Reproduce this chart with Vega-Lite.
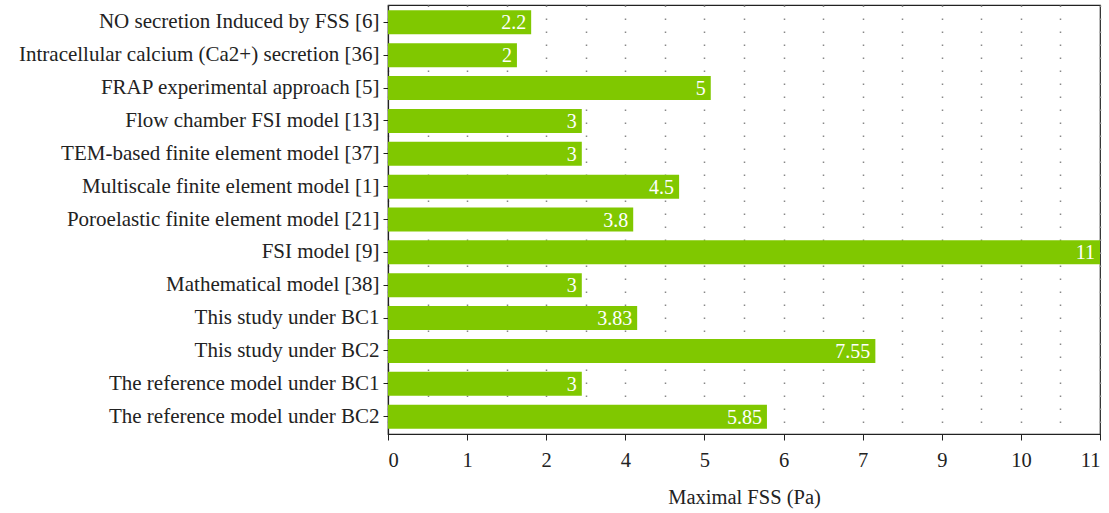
{
  "$schema": "https://vega.github.io/schema/vega-lite/v6.json",
  "width": 712,
  "height": 429,
  "padding": {"left": 18, "top": 5, "right": 2, "bottom": 5},
  "background": "white",
  "config": {
    "font": "Liberation Serif",
    "view": {"stroke": "#222", "strokeWidth": 1.2},
    "axis": {"labelFont": "Liberation Serif", "titleFont": "Liberation Serif", "labelColor": "#222", "titleColor": "#222", "domainColor": "#222", "tickColor": "#222"}
  },
  "data": {
    "values": [
      {"study": "NO secretion Induced by FSS [6]", "fss": 1.81, "label": "2.2"},
      {"study": "Intracellular calcium (Ca2+) secretion [36]", "fss": 1.63, "label": "2"},
      {"study": "FRAP experimental approach [5]", "fss": 5.08, "label": "5"},
      {"study": "Flow chamber FSI model [13]", "fss": 2.9, "label": "3"},
      {"study": "TEM-based finite element model [37]", "fss": 2.9, "label": "3"},
      {"study": "Multiscale finite element model [1]", "fss": 4.68, "label": "4.5"},
      {"study": "Poroelastic finite element model [21]", "fss": 4.1, "label": "3.8"},
      {"study": "FSI model [9]", "fss": 11, "label": "11"},
      {"study": "Mathematical model [38]", "fss": 2.9, "label": "3"},
      {"study": "This study under BC1", "fss": 4.15, "label": "3.83"},
      {"study": "This study under BC2", "fss": 7.32, "label": "7.55"},
      {"study": "The reference model under BC1", "fss": 2.9, "label": "3"},
      {"study": "The reference model under BC2", "fss": 5.79, "label": "5.85"}
    ]
  },
  "encoding": {
    "y": {
      "field": "study",
      "type": "nominal",
      "sort": null,
      "scale": {"paddingInner": 0.27, "paddingOuter": 0.16},
      "axis": {"title": null, "labelFontSize": 21, "labelLimit": 0, "labelPadding": 4, "tickSize": 5, "domainWidth": 1.2}
    }
  },
  "layer": [
    {
      "mark": {"type": "bar", "color": "#80c800"},
      "encoding": {
        "x": {
          "field": "fss",
          "type": "quantitative",
          "scale": {"domain": [0, 2, 4, 7, 9, 11], "range": [0, 158.2, 237.3, 474.7, 553.8, 712], "nice": false, "zero": false},
          "axis": {
            "orient": "bottom",
            "title": "Maximal FSS (Pa)",
            "titleFontSize": 20.5,
            "titleFontWeight": "normal",
            "titlePadding": 17,
            "labelFontSize": 20.5,
            "labelPadding": 10,
            "values": [0, 1, 2, 4, 5, 6, 7, 9, 10, 11],
            "tickSize": 6,
            "domainWidth": 1.2,
            "grid": false
          }
        }
      }
    },
    {
      "mark": {"type": "text", "color": "white", "align": "right", "baseline": "middle", "dx": -5, "dy": 1, "fontSize": 20},
      "encoding": {
        "x": {
          "field": "fss",
          "type": "quantitative",
          "axis": {
            "orient": "top",
            "title": null,
            "labels": false,
            "domain": false,
            "ticks": false,
            "values": [0, 0.5, 1, 1.5, 2, 3, 4, 4.5, 5, 5.5, 6, 6.5, 7, 8, 9, 9.5, 10, 10.5, 11],
            "grid": true,
            "gridColor": "#888",
            "gridDash": [1.5, 11.5],
            "gridWidth": 1.5,
            "zindex": 0
          }
        },
        "text": {"field": "label"}
      }
    }
  ]
}
